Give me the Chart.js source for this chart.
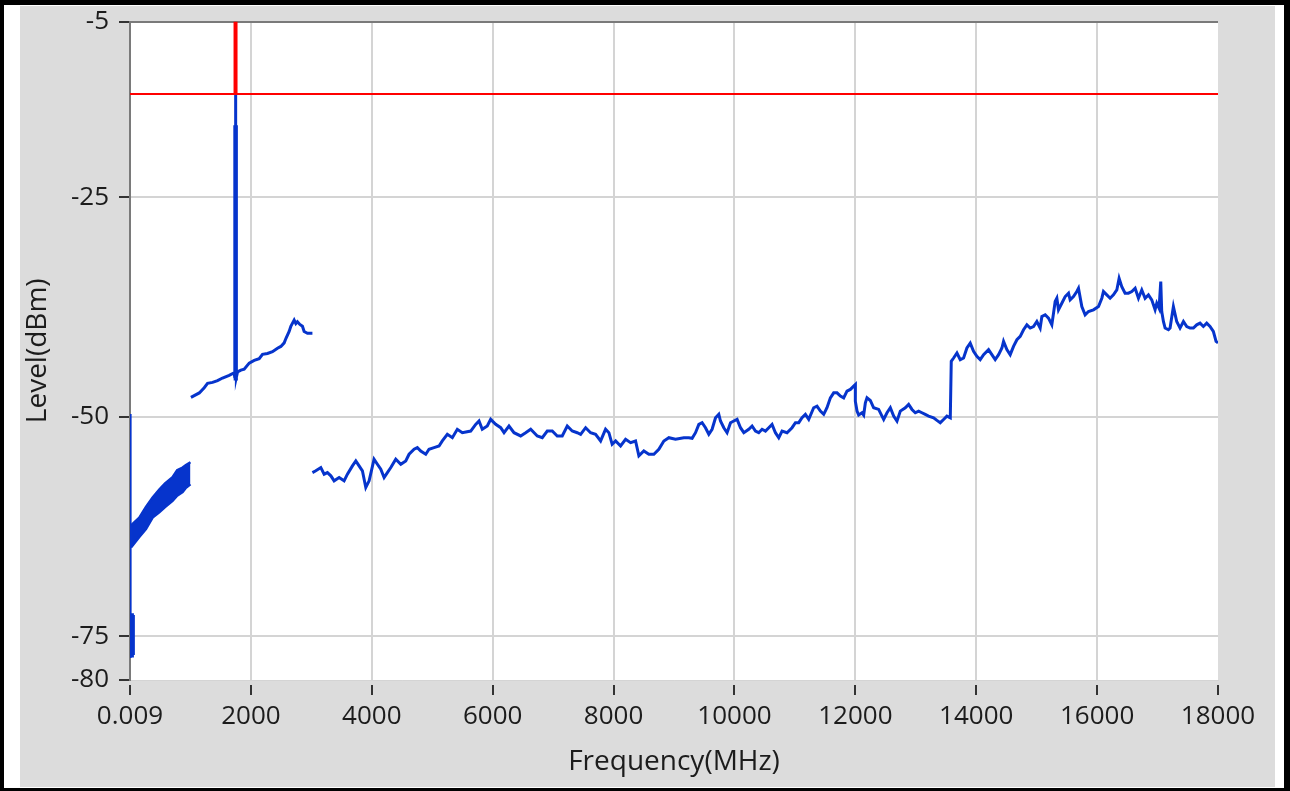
<!DOCTYPE html>
<html><head><meta charset="utf-8">
<script src="https://cdn.jsdelivr.net/npm/chart.js@4.4.1/dist/chart.umd.min.js"></script>
<style>html,body{margin:0;padding:0;background:#fff;overflow:hidden}</style>
</head><body>
<canvas id="c" width="1290" height="791"></canvas>
<script>
// ---- axis ticks ----
const xTickValues = [0.009, 2000, 4000, 6000, 8000, 10000, 12000, 14000, 16000, 18000];
const xTickLabels = ['0.009', '2000', '4000', '6000', '8000', '10000', '12000', '14000', '16000', '18000'];
const yTickValues = [-80, -75, -50, -25, -5];

// ---- limit line and marker (MHz, dBm) ----
const limitFreq = [0.009, 18000];
const limitLevel = [-13.25, -13.25];
const markerFreq = [1746, 1746];
const markerLevel = [-5, -13.25];

// ---- trace: 9 kHz .. 60 MHz ----
const freqLow = [0.009, 0.009, 12, 20, 28, 36, 44, 52, 60];
const levelLow = [-49.7, -77.5, -72.4, -77.3, -72.4, -77.3, -72.4, -77.0, -72.6];

// ---- trace: 17 .. 1000 MHz (noise band envelope) ----
const bandFreq = [17, 154, 264, 374, 484, 580, 704, 780, 870, 926, 1000];
const bandUpper = [-62.4, -61.5, -60.3, -59.2, -58.3, -57.6, -56.9, -56.1, -55.8, -55.5, -55.2];
const bandLower = [-64.9, -63.7, -62.8, -61.5, -60.9, -60.3, -59.6, -59.0, -58.6, -58.1, -57.7];

// ---- trace: 1 .. 3 GHz ----
const freqMid = [1008, 1146, 1228, 1283, 1366, 1448, 1531, 1641, 1724, 1732, 1736, 1740, 1746, 1750, 1754, 1758, 1762, 1779, 1835, 1889, 1972, 2055, 2137, 2192, 2275, 2357, 2440, 2496, 2551, 2579, 2633, 2661, 2716, 2744, 2770, 2810, 2853, 2881, 2936, 3018];
const levelMid = [-47.8, -47.3, -46.7, -46.2, -46.1, -45.9, -45.6, -45.3, -45.0, -45.6, -16.8, -45.7, -13.3, -16.8, -45.7, -16.8, -45.5, -44.9, -44.7, -44.6, -43.9, -43.6, -43.4, -42.9, -42.8, -42.6, -42.2, -42.0, -41.6, -41.1, -40.3, -39.7, -39.0, -39.4, -39.2, -39.5, -39.7, -40.3, -40.5, -40.5];

// ---- trace: 3 .. 12 GHz ----
const freqHigh = [3018, 3074, 3157, 3212, 3266, 3323, 3377, 3460, 3542, 3597, 3680, 3736, 3790, 3845, 3901, 3956, 4038, 4093, 4149, 4204, 4258, 4315, 4397, 4480, 4562, 4617, 4700, 4754, 4810, 4893, 4947, 5030, 5113, 5167, 5250, 5333, 5415, 5498, 5637, 5719, 5774, 5828, 5911, 5967, 6050, 6133, 6188, 6270, 6353, 6463, 6546, 6629, 6738, 6821, 6903, 6986, 7068, 7151, 7234, 7316, 7399, 7455, 7538, 7620, 7703, 7786, 7868, 7923, 7977, 8034, 8116, 8199, 8282, 8364, 8419, 8501, 8584, 8667, 8749, 8832, 8915, 9025, 9163, 9245,
  9300, 9356, 9411, 9465, 9521, 9576, 9630, 9687, 9741, 9769, 9824, 9878, 9935, 9989, 10044, 10100, 10155, 10237, 10292, 10348, 10402, 10457, 10513, 10568, 10622, 10678, 10733, 10788, 10870, 10953, 11009, 11064, 11118, 11174, 11229, 11311, 11366, 11422, 11477, 11531, 11587, 11642, 11697, 11753, 11807, 11862, 11918, 11973, 12001];
const levelHigh = [-56.37, -56.17, -55.80, -56.55, -56.37, -56.74, -57.31, -56.94, -57.31, -56.55, -55.61, -55.04, -55.61, -56.17, -58.07, -57.31, -54.85, -55.42, -55.98, -56.94, -56.37, -55.80, -54.85, -55.42, -55.04, -54.28, -53.71, -53.53, -53.91, -54.28, -53.71, -53.53, -53.34, -52.77, -52.01, -52.40, -51.44, -51.83, -51.64, -50.88, -50.50, -51.44, -51.07, -50.31, -50.88, -51.26, -51.83, -51.07, -51.83, -52.20, -51.83, -51.44, -52.20, -52.40, -51.64, -51.64, -52.20, -52.20, -51.07, -51.64, -51.83, -52.01, -51.26, -51.83, -52.01, -52.77, -51.44, -51.83, -53.15, -52.77, -53.34, -52.58, -52.96, -52.77, -54.47, -53.91, -54.28, -54.28, -53.71, -52.77, -52.40, -52.58, -52.40, -52.40,
  -52.47, -51.83, -50.88, -50.69, -51.26, -52.01, -51.44, -50.13, -49.74, -50.50, -51.26, -51.83, -50.69, -50.50, -50.31, -51.26, -51.83, -51.44, -51.07, -51.64, -51.83, -51.44, -51.64, -51.26, -50.88, -51.83, -52.40, -51.64, -51.83, -51.26, -50.69, -50.69, -50.13, -49.74, -50.31, -48.99, -48.80, -49.37, -49.74, -48.99, -47.86, -47.29, -47.29, -47.66, -47.86, -47.10, -46.90, -46.53, -46.34];

// ---- trace: 12 .. 18 GHz ----
const freqTop = [12000, 12028, 12055, 12110, 12138, 12166, 12193, 12248, 12303, 12386, 12441, 12469, 12524, 12579, 12634, 12689, 12744, 12827, 12882, 12937, 12992, 13047, 13102, 13157, 13212, 13295, 13350, 13405, 13460, 13515, 13571, 13587, 13626, 13681, 13736, 13791, 13846, 13901, 13956, 14011, 14066, 14122, 14204, 14259, 14314, 14370, 14425, 14452, 14507, 14562, 14617, 14673, 14728, 14783, 14838, 14893, 14948, 15003, 15058, 15086, 15141, 15196, 15251, 15279, 15306, 15334, 15361, 15416, 15472, 15527, 15554, 15609, 15664, 15692, 15747, 15802, 15857, 15940, 16023, 16078, 16105, 16160, 16215, 16270, 16326, 16364, 16408, 16463, 16518, 16574, 16629, 16684, 16739, 16794, 16849, 16904, 16959, 16987, 17025, 17053, 17069, 17097, 17125, 17180, 17207, 17262, 17317, 17372, 17428, 17483, 17538, 17593, 17648, 17703, 17758, 17813, 17868, 17923, 17968, 18000];
const levelTop = [-48.24, -49.37, -49.82, -49.56, -49.82, -48.42, -47.86, -48.16, -48.99, -49.18, -49.94, -50.32, -49.56, -48.99, -49.94, -50.51, -49.37, -48.99, -48.61, -49.18, -49.56, -49.37, -49.56, -49.75, -49.94, -50.13, -50.43, -50.69, -50.32, -49.94, -50.13, -43.70, -43.32, -42.75, -43.51, -43.32, -42.18, -41.62, -42.56, -43.13, -43.51, -42.94, -42.37, -42.94, -43.51, -42.94, -42.18, -41.43, -42.37, -42.94, -41.99, -41.24, -40.86, -40.10, -39.54, -39.91, -39.73, -39.16, -39.91, -38.59, -38.40, -38.78, -39.54, -38.21, -36.89, -36.51, -37.83, -37.08, -36.32, -35.94, -36.70, -36.32, -35.75, -35.38, -37.46, -38.40, -38.02, -37.83, -37.46, -36.51, -35.75, -36.13, -36.51, -36.13, -35.57, -34.24, -35.19, -35.94, -35.94, -35.75, -35.38, -36.51, -35.57, -36.51, -36.13, -36.70, -37.83, -37.08, -37.65, -34.62, -38.02, -39.16, -39.91, -40.10, -39.91, -37.46, -39.16, -39.91, -39.16, -39.73, -39.91, -39.91, -39.54, -39.35, -39.73, -39.35, -39.73, -40.29, -41.43, -41.60];

const FONT = "'Open Sans', 'Noto Sans', sans-serif";
const TEXT = '#1c1c1c';
const BLUE = '#0634cc';
const RED = '#ff0000';
const pts = (xs, ys) => xs.map((x, i) => ({ x, y: ys[i] }));

const framePlugin = {
  id: 'frame',
  beforeDraw(chart) {
    const { ctx, chartArea: a, width, height } = chart;
    ctx.save();
    ctx.fillStyle = '#000';
    ctx.fillRect(0, 0, width, height);
    ctx.fillStyle = '#fff';
    ctx.fillRect(4, 5, width - 10, height - 8);
    ctx.fillStyle = '#dcdcdc';
    ctx.fillRect(20, 6, width - 35, height - 10);
    ctx.fillStyle = '#fff';
    ctx.fillRect(a.left, a.top, a.right - a.left, a.bottom - a.top);
    ctx.restore();
  }
};

const lineDs = (data, color, width, order) => ({
  data, borderColor: color, backgroundColor: color, borderWidth: width,
  pointRadius: 0, tension: 0, fill: false, order
});

new Chart(document.getElementById('c'), {
  type: 'line',
  data: {
    datasets: [
      lineDs(pts(freqLow, levelLow), BLUE, 2.5, 2),
      lineDs(pts(bandFreq, bandUpper), BLUE, 2.5, 2),
      Object.assign(lineDs(pts(bandFreq, bandLower), BLUE, 2.5, 2), { fill: '-1' }),
      lineDs(pts(freqMid, levelMid), BLUE, 3, 2),
      lineDs(pts(freqHigh.concat(freqTop), levelHigh.concat(levelTop)), BLUE, 3, 2),
      lineDs(pts(limitFreq, limitLevel), RED, 2, 0),
      lineDs(pts(markerFreq, markerLevel), RED, 4, 0)
    ]
  },
  options: {
    responsive: false,
    animation: false,
    devicePixelRatio: 1,
    layout: { padding: { left: 0, top: 18, right: 72, bottom: 0 } },
    plugins: { legend: { display: false }, tooltip: { enabled: false } },
    scales: {
      x: {
        type: 'linear', min: 0.009, max: 18000,
        afterBuildTicks: s => { s.ticks = xTickValues.map(v => ({ value: v })); },
        afterFit: s => { s.height = 111; },
        ticks: {
          autoSkip: false, maxRotation: 0, padding: 6, color: TEXT,
          font: { family: FONT, size: 26 },
          callback: v => xTickLabels[xTickValues.indexOf(v)]
        },
        grid: {
          color: c => (c.tick && (c.tick.value === 0.009 || c.tick.value === 18000)) ? 'rgba(0,0,0,0)' : '#d4d4d4',
          lineWidth: 2, tickLength: 15, tickColor: '#333', tickWidth: 2,
          tickBorderDash: [0, 4, 11, 100]
        },
        border: { display: true, color: '#d4d4d4', width: 1 },
        title: { display: true, text: 'Frequency(MHz)', color: TEXT, font: { family: FONT, size: 28 }, padding: { top: 0, bottom: 12 } }
      },
      y: {
        type: 'linear', min: -80, max: -5,
        afterBuildTicks: s => { s.ticks = yTickValues.map(v => ({ value: v })); },
        afterFit: s => { s.width = 130; },
        ticks: {
          autoSkip: false, padding: 6, color: TEXT,
          font: { family: FONT, size: 26 },
          callback: v => String(v)
        },
        grid: {
          color: c => {
            if (!c.tick) return '#d4d4d4';
            if (c.tick.value === -5) return '#7a7a7a';
            if (c.tick.value === -80) return 'rgba(0,0,0,0)';
            return '#d4d4d4';
          },
          lineWidth: 2, tickLength: 15, tickColor: '#333', tickWidth: 2,
          tickBorderDash: [0, 4, 11, 100]
        },
        border: { display: true, color: '#7a7a7a', width: 2 },
        title: { display: true, text: 'Level(dBm)', color: TEXT, font: { family: FONT, size: 28 }, padding: { top: 21, bottom: 0 } }
      }
    }
  },
  plugins: [framePlugin]
});
</script>
</body></html>
